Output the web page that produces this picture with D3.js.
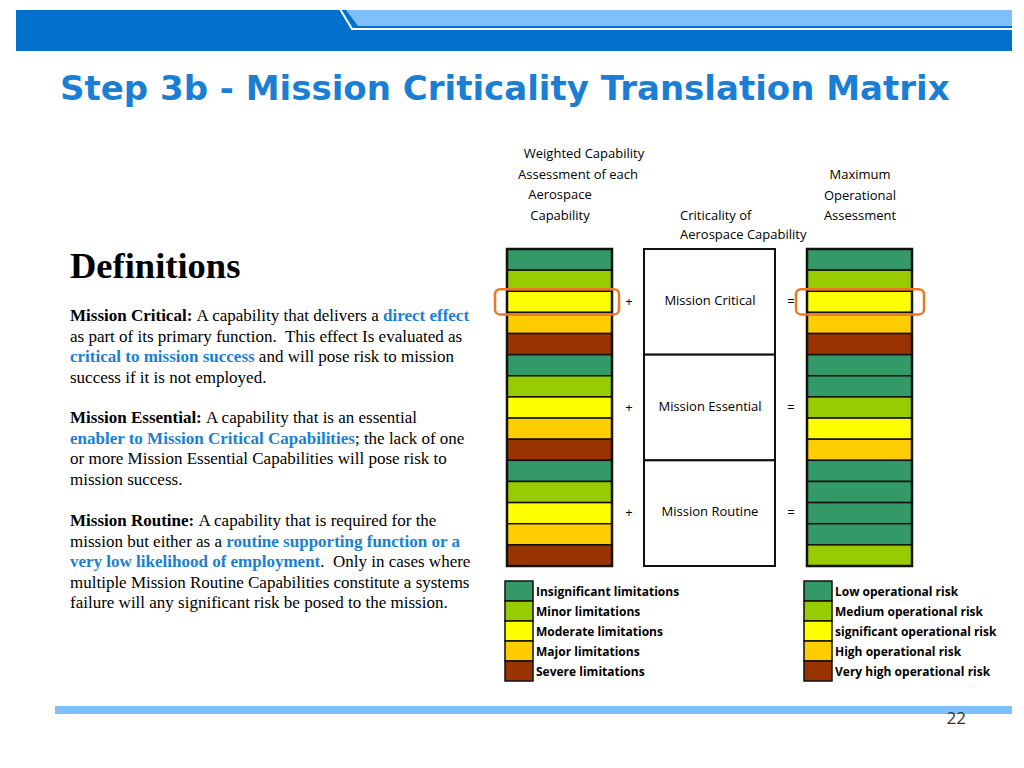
<!DOCTYPE html>
<html><head><meta charset="utf-8">
<script src="https://cdn.jsdelivr.net/npm/d3@7"></script>
<style>body{margin:0;background:#fff}</style>
</head><body>
<div id="canvas" class="canvas"></div>
<script>
// --- data
var levels = ['Insignificant limitations','Minor limitations','Moderate limitations','Major limitations','Severe limitations'];
var riskLevels = ['Low operational risk','Medium operational risk','significant operational risk','High operational risk','Very high operational risk'];
var levelColors = ['#339966','#99cc00','#ffff00','#ffcc00','#993300'];
var criticality = ['Mission Critical','Mission Essential','Mission Routine'];
// index into levelColors for each row of the result column
var resultCritical = [0,1,2,3,4];
var resultEssential = [0,0,1,2,3];
var resultRoutine = [0,0,0,0,1];

var W = 1024, H = 768;
var svg = d3.select('.canvas').append('svg').attr('width', W).attr('height', H)
  .style('font-family','"Open Sans", sans-serif');

// --- header band
svg.append('rect').attr('x',16).attr('y',10).attr('width',996).attr('height',41).attr('fill','#0070cc');
svg.append('path').attr('d','M346,10 L1012,10 L1012,26 L358,26 Z').attr('fill','#7fc0fc');
svg.append('path').attr('d','M340,9 L352,29 L1012,29').attr('fill','none').attr('stroke','#fff').attr('stroke-width',2);
svg.append('rect').attr('x',55).attr('y',706).attr('width',957).attr('height',8).attr('fill','#7fc0fc');
svg.append('text').attr('x',966).attr('y',724).attr('text-anchor','end').attr('font-size',17).attr('fill','#333').text('22');

svg.append('text').attr('x',60).attr('y',100).attr('font-size',34).attr('font-weight','bold')
  .attr('fill','#1a7fd4').attr('font-family','Verdana, "DejaVu Sans", sans-serif')
  .text('Step 3b - Mission Criticality Translation Matrix');

// --- definitions
var serif = '"Liberation Serif", "Times New Roman", serif';
svg.append('text').attr('x',70).attr('y',278).attr('font-size',36.5).attr('font-weight','bold')
  .attr('font-family',serif).text('Definitions');
var blue = '#1a7fd4';
var paras = [
 {y:321, lines:[[['Mission Critical: ','b'],['A capability that delivers a ',''],['direct effect','c']],
   [['as part of its primary function.  This effect Is evaluated as','']],
   [['critical to mission success','c'],[' and will pose risk to mission','']],
   [['success if it is not employed.','']]]},
 {y:423, lines:[[['Mission Essential: ','b'],['A capability that is an essential','']],
   [['enabler to Mission Critical Capabilities','c'],['; the lack of one','']],
   [['or more Mission Essential Capabilities will pose risk to','']],
   [['mission success.','']]]},
 {y:526, lines:[[['Mission Routine: ','b'],['A capability that is required for the','']],
   [['mission but either as a ',''],['routine supporting function or a','c']],
   [['very low likelihood of employment','c'],['.  Only in cases where','']],
   [['multiple Mission Routine Capabilities constitute a systems','']],
   [['failure will any significant risk be posed to the mission.','']]]}
];
paras.forEach(function(p){
  p.lines.forEach(function(l,i){
    var t = svg.append('text').attr('x',70).attr('y',p.y+i*20.5).attr('font-size',17)
      .attr('font-family',serif).style('white-space','pre');
    l.forEach(function(s){
      t.append('tspan').text(s[0])
        .attr('font-weight', s[1] ? 'bold' : 'normal')
        .attr('fill', s[1]=='c' ? blue : '#000');
    });
  });
});

// --- column headers
function lines(xs, y0, arr){
  arr.forEach(function(s,i){
    svg.append('text').attr('x',xs[i]).attr('y',y0+i*20.7).attr('text-anchor','middle')
      .attr('font-size',13).text(s);
  });
}
lines([584,578,560,560],158,['Weighted Capability','Assessment of  each','Aerospace','Capability']);
lines([860,860,860],179,['Maximum','Operational','Assessment']);
svg.append('text').attr('x',680).attr('y',220).attr('font-size',13).text('Criticality of');
svg.append('text').attr('x',680).attr('y',239).attr('font-size',13).text('Aerospace Capability');

// --- matrix
var rows = d3.range(15);
var y = d3.scaleBand().domain(rows).range([249,566]);
var yGroup = d3.scaleBand().domain(criticality).range([249,566]);
var inputIdx = rows.map(function(i){ return i % 5; });
var resultIdx = resultCritical.concat(resultEssential, resultRoutine);

function column(x, idx){
  var g = svg.append('g');
  g.selectAll('rect').data(rows).enter().append('rect')
    .attr('x',x).attr('y',function(d){return y(d);})
    .attr('width',105).attr('height',y.bandwidth())
    .attr('fill',function(d){return levelColors[idx[d]];})
    .attr('stroke','#111').attr('stroke-width',1.5);
  g.append('rect').attr('x',x).attr('y',249).attr('width',105).attr('height',317)
    .attr('fill','none').attr('stroke','#111').attr('stroke-width',2.5);
}
column(507, inputIdx);
column(807, resultIdx);

svg.selectAll('rect.crit').data(criticality).enter().append('rect')
  .attr('x',644).attr('y',function(d){return yGroup(d);})
  .attr('width',131).attr('height',yGroup.bandwidth())
  .attr('fill','#fff').attr('stroke','#111').attr('stroke-width',2);
criticality.forEach(function(c){
  var yy = yGroup(c) + 56;
  svg.append('text').attr('x',710).attr('y',yy).attr('text-anchor','middle').attr('font-size',13).text(c);
  svg.append('text').attr('x',629).attr('y',yy+1).attr('text-anchor','middle').attr('font-size',13).text('+');
  svg.append('text').attr('x',791).attr('y',yy+1).attr('text-anchor','middle').attr('font-size',13).text('=');
});

// orange highlight
[[495,124],[796,128]].forEach(function(h){
  svg.append('rect').attr('x',h[0]).attr('y',y(2)-2).attr('width',h[1]).attr('height',y.bandwidth()+4)
    .attr('rx',5).attr('fill','none').attr('stroke','#ee7722').attr('stroke-width',2.5);
});

// --- legends
var yl = d3.scaleBand().domain(d3.range(5)).range([581,681]);
function legend(x, labels){
  var g = svg.append('g');
  g.selectAll('rect').data(labels).enter().append('rect')
    .attr('x',x).attr('y',function(d,i){return yl(i);})
    .attr('width',28).attr('height',yl.bandwidth())
    .attr('fill',function(d,i){return levelColors[i];})
    .attr('stroke','#111').attr('stroke-width',1.5);
  g.selectAll('text').data(labels).enter().append('text')
    .attr('x',x+31).attr('y',function(d,i){return yl(i)+15;})
    .attr('font-size',12).attr('font-weight','bold').text(function(d){return d;});
}
legend(505, levels);
legend(804, riskLevels);
</script>
</body></html>
